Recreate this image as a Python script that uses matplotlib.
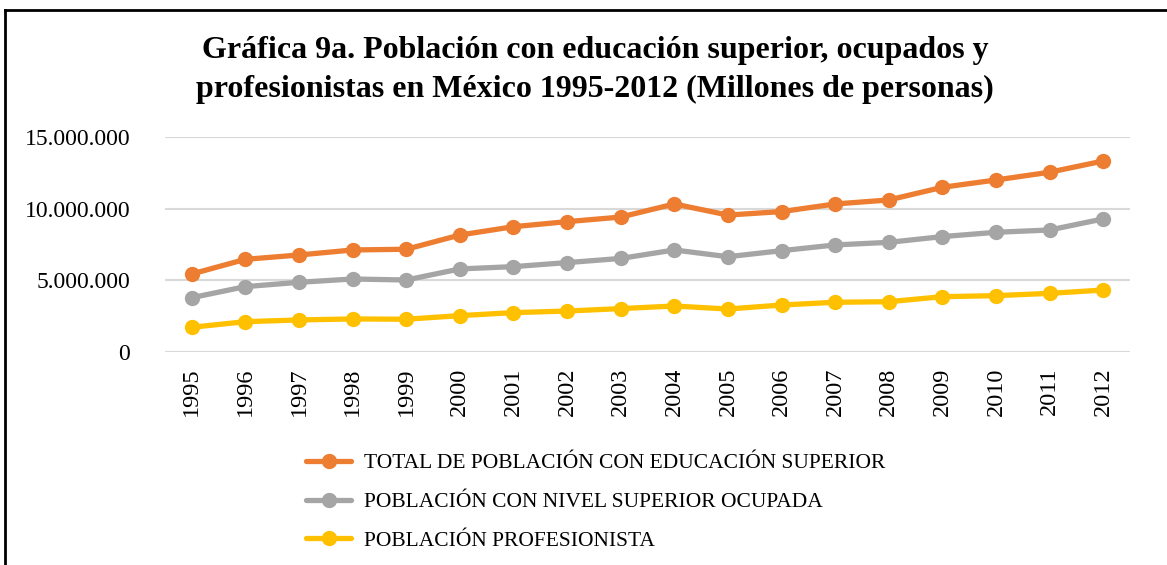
import numpy as np
import matplotlib
matplotlib.use("Agg")
import matplotlib.pyplot as plt
from matplotlib.lines import Line2D
from matplotlib.ticker import FuncFormatter

# ============================================================
# DATA
# ============================================================

years = [str(y) for y in range(1995, 2013)]

total_edu_sup = [
    5.45, 6.47, 6.77, 7.12, 7.17, 8.16, 8.74, 9.09, 9.41,
    10.32, 9.55, 9.79, 10.32, 10.60, 11.48, 11.99, 12.53, 13.31
]

ocupada = [
    3.80, 4.57, 4.87, 5.10, 5.03, 5.80, 5.96, 6.24, 6.53,
    7.12, 6.65, 7.07, 7.47, 7.65, 8.05, 8.35, 8.51, 9.28
]

profesionista = [
    1.74, 2.13, 2.25, 2.32, 2.30, 2.55, 2.76, 2.87, 3.04,
    3.22, 3.01, 3.29, 3.48, 3.52, 3.87, 3.94, 4.10, 4.33
]

series_names = [
    "TOTAL DE POBLACIÓN CON EDUCACIÓN SUPERIOR",
    "POBLACIÓN CON NIVEL SUPERIOR OCUPADA",
    "POBLACIÓN PROFESIONISTA",
]

colors = ["#ED7D31", "#A5A5A5", "#FFC000"]

title = ("Gráfica 9a. Población con educación superior, ocupados y\n"
         "profesionistas en México 1995-2012 (Millones de personas)")

# ============================================================
# FIGURE
# ============================================================

plt.rcParams["font.family"] = ["Liberation Serif", "DejaVu Serif"]

fig = plt.figure(figsize=(11.67, 5.65), dpi=100)
ax = fig.add_axes([0.1414, 0.3765, 0.8269, 0.3815])

x = np.arange(len(years))

for vals, name, c in zip([total_edu_sup, ocupada, profesionista], series_names, colors):
    ax.plot(
        x,
        np.array(vals) * 1e6,
        color=c,
        linewidth=3.8,
        marker="o",
        markersize=10,
        label=name,
        solid_capstyle="round",
    )

ax.set_xlim(-0.5, len(years) - 0.5)
ax.set_ylim(0, 15e6)
ax.set_yticks([0, 5e6, 10e6, 15e6])
ax.yaxis.set_major_formatter(
    FuncFormatter(lambda v, p: f"{int(v):,}".replace(",", "."))
)
ax.set_xticks(x)
ax.set_xticklabels(years, rotation=90)

ax.grid(axis="y", color="#D9D9D9", linewidth=1.5)
ax.set_axisbelow(True)
for s in ax.spines.values():
    s.set_visible(False)

ax.tick_params(axis="y", length=0, pad=25, labelsize=17)
ax.tick_params(axis="x", length=0, pad=11, labelsize=17.5)

fig.text(0.51, 1 - 70 / 565, title, ha="center", va="center",
         fontsize=23, fontweight="bold", linespacing=1.45)

fig.legend(
    loc="upper left",
    bbox_to_anchor=(0.255, 0.213),
    frameon=False,
    fontsize=15.5,
    handlelength=2.1,
    handletextpad=0.6,
    labelspacing=0.87,
    borderaxespad=0,
)

# figure border
fig.add_artist(Line2D([5 / 1167, 5 / 1167], [0, 1 - 9.5 / 565],
                      transform=fig.transFigure, color="black", linewidth=2))
fig.add_artist(Line2D([5 / 1167, 1], [1 - 9.5 / 565, 1 - 9.5 / 565],
                      transform=fig.transFigure, color="black", linewidth=2))

fig.savefig("out.png", dpi=100)
